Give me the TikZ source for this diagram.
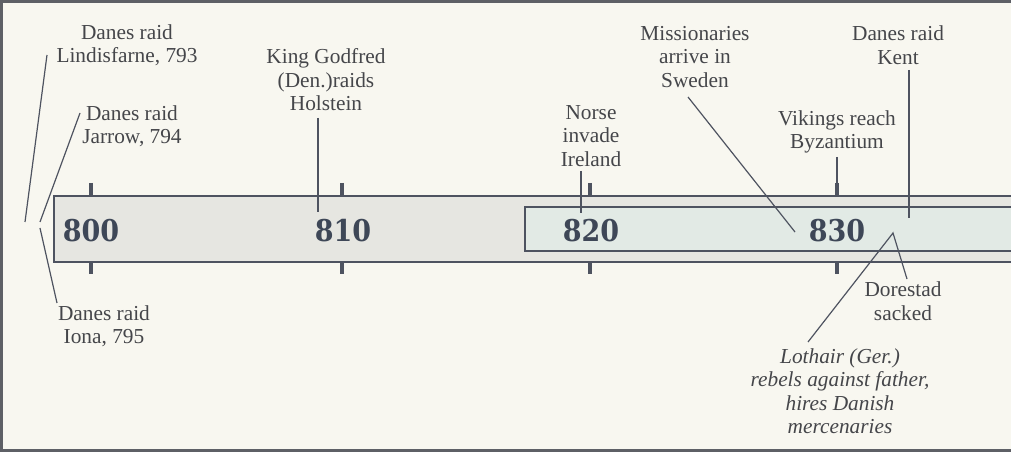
\documentclass[tikz,border=0pt]{standalone}
\usepackage{fontspec}
\setmainfont{Liberation Serif}
\newfontfamily\yearfont{DejaVu Serif Condensed}
\definecolor{bgc}{HTML}{F8F7F0}
\definecolor{framec}{HTML}{5E6066}
\definecolor{barc}{HTML}{E6E6E1}
\definecolor{innerc}{HTML}{E2EAE5}
\definecolor{linec}{HTML}{4E5360}
\definecolor{txtc}{HTML}{45464A}
\definecolor{yearc}{HTML}{3E4757}
\begin{document}
\begin{tikzpicture}[x=0.75pt,y=-0.75pt,
  lbl/.style={align=center,text=txtc,font=\fontsize{16}{17.6}\selectfont,inner sep=0pt},
  ilbl/.style={lbl,font=\fontsize{16}{17.6}\selectfont\itshape},
  yr/.style={text=yearc,font=\yearfont\bfseries\fontsize{22.5}{24}\selectfont,inner sep=0pt},
  lead/.style={draw=linec,line width=0.9pt},
  tick/.style={draw=linec,line width=3pt},
  barline/.style={draw=linec,line width=1.8pt}]
\useasboundingbox (0,0) rectangle (1011,452);
\fill[bgc] (0,0) rectangle (1011,452);
% frame
\draw[framec,line width=2.5pt] (1011,1.5) -- (1.5,1.5) -- (1.5,450.5) -- (1011,450.5);
% bars
\fill[barc] (54,196) rectangle (1011,262);
\draw[barline] (1011,196) -- (54,196) -- (54,262) -- (1011,262);
\fill[innerc] (525,207) rectangle (1011,251);
\draw[barline,line width=1.4pt] (1011,207) -- (525,207) -- (525,251) -- (1011,251);
% ticks
\foreach \x in {91,342,590,837}{
  \draw[tick] (\x,183) -- (\x,195);
  \draw[tick] (\x,263) -- (\x,274);
}
% years
\node[yr] (y800) at (91,231) {800};
\node[yr] (y810) at (343,231) {810};
\node[yr] (y820) at (591,231) {820};
\node[yr] (y830) at (837,231) {830};
% labels
\node[lbl] (lind) at (127,45) {Danes raid\\Lindisfarne, 793};
\node[lbl] (god) at (326,80) {King Godfred\\(Den.)raids\\Holstein};
\node[lbl] (jar) at (132,126) {Danes raid\\Jarrow, 794};
\node[lbl] (iona) at (104,326) {Danes raid\\Iona, 795};
\node[lbl] (norse) at (591,136) {Norse\\invade\\Ireland};
\node[lbl] (miss) at (695,57) {Missionaries\\arrive in\\Sweden};
\node[lbl] (kent) at (898,45) {Danes raid\\Kent};
\node[lbl] (byz) at (837,132) {Vikings reach\\Byzantium};
\node[lbl] (dor) at (903,301) {Dorestad\\sacked};
\node[ilbl] (loth) at (840,391) {Lothair (Ger.)\\rebels against father,\\hires Danish\\mercenaries};
% connector ends
\coordinate (lindA) at (47,55);
\coordinate (lindB) at (25,222);
\coordinate (jarA) at (80,113);
\coordinate (jarB) at (40,222);
\coordinate (ionaA) at (40,228);
\coordinate (ionaB) at (57,303);
\coordinate (godB) at (318,212);
\coordinate (norseB) at (581,213);
\coordinate (missA) at (688,97);
\coordinate (missB) at (795,232);
\coordinate (kentB) at (909,218);
\coordinate (apex) at (893,233);
\coordinate (dorA) at (907,279);
\coordinate (lothA) at (808,342);
\coordinate (byzB) at (837,183);
% connectors
\draw[lead] (lindA) -- (lindB);
\draw[lead] (jarA) -- (jarB);
\draw[lead] (ionaA) -- (ionaB);
\draw[lead] (318,118) -- (godB);
\draw[lead] (581,171) -- (norseB);
\draw[lead] (missA) -- (missB);
\draw[lead] (909,70) -- (kentB);
\draw[lead] (837,157) -- (byzB);
\draw[lead] (dorA) -- (apex) -- (lothA);
\end{tikzpicture}
\end{document}
